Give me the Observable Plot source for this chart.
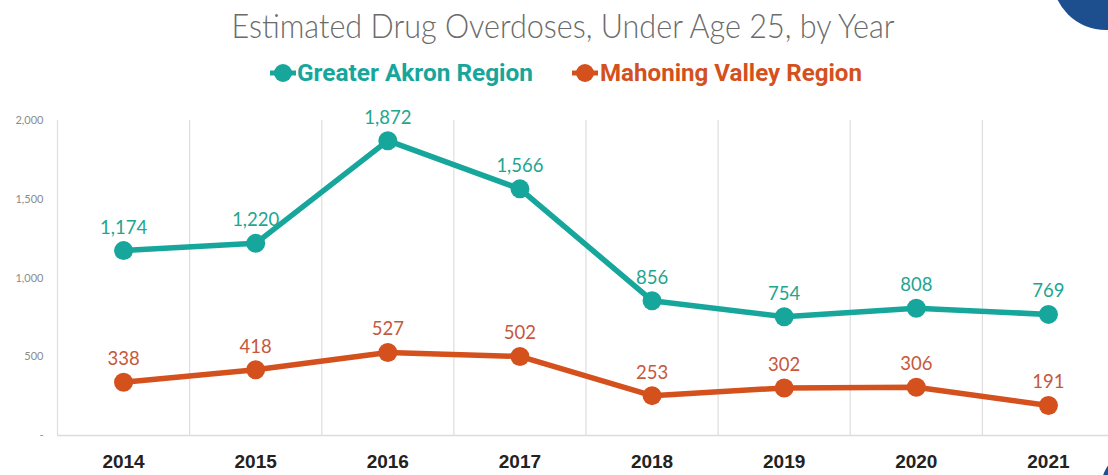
<!DOCTYPE html>
<html>
<head>
<meta charset="utf-8">
<script src="https://cdn.jsdelivr.net/npm/d3@7"></script>
<script src="https://cdn.jsdelivr.net/npm/@observablehq/plot@0.6"></script>
<style>
  html, body { margin: 0; padding: 0; background: #fff; width: 1108px; height: 475px; overflow: hidden; position: relative; }
  #header { position: absolute; left: 0; top: 0; }
  #chart { position: absolute; left: 0; top: 100px; }
  .deco { position: absolute; border-radius: 50%; background: #1d4f8f; }
</style>
</head>
<body>
<div id="header"></div>
<div id="chart"></div>
<div class="deco" style="left:1052px; top:-78px; width:108px; height:108px;"></div>
<div class="deco" style="left:1101px; top:448px; width:80px; height:80px;"></div>
<script>
const years = [2014, 2015, 2016, 2017, 2018, 2019, 2020, 2021];
const akron = [1174, 1220, 1872, 1566, 856, 754, 808, 769];
const mahoning = [338, 418, 527, 502, 253, 302, 306, 191];
const seriesNames = ["Greater Akron Region", "Mahoning Valley Region"];
const yTicks = [0, 500, 1000, 1500, 2000];
const titleText = "Estimated Drug Overdoses, Under Age 25, by Year";

const lineColors = {"Greater Akron Region": "#17a69c", "Mahoning Valley Region": "#d4511e"};
const labelColors = {"Greater Akron Region": "#22a58f", "Mahoning Valley Region": "#c5583d"};

const rows = [
  ...years.map((yr, i) => ({year: yr, value: akron[i], series: seriesNames[0]})),
  ...years.map((yr, i) => ({year: yr, value: mahoning[i], series: seriesNames[1]}))
];
const boundaries = [years[0] - 0.5, ...years.map(y => y + 0.5)];

// Header: title + legend
const header = d3.create("svg").attr("width", 1108).attr("height", 100);
header.append("text")
  .attr("x", 563).attr("y", 38)
  .attr("text-anchor", "middle")
  .attr("textLength", 663).attr("lengthAdjust", "spacingAndGlyphs")
  .attr("font-family", "Lato, 'Open Sans', sans-serif")
  .attr("font-weight", 300)
  .attr("font-size", 34)
  .attr("fill", "#6b6b6b")
  .text(titleText);

const legendItems = [
  {name: seriesNames[0], x0: 270, tx: 297, tl: 236},
  {name: seriesNames[1], x0: 572, tx: 600, tl: 262}
];
legendItems.forEach(it => {
  const c = lineColors[it.name];
  header.append("line").attr("x1", it.x0).attr("x2", it.x0 + 26)
    .attr("y1", 73).attr("y2", 73).attr("stroke", c).attr("stroke-width", 5);
  header.append("circle").attr("cx", it.x0 + 13).attr("cy", 73).attr("r", 9).attr("fill", c);
  header.append("text")
    .attr("x", it.tx).attr("y", 81)
    .attr("textLength", it.tl).attr("lengthAdjust", "spacingAndGlyphs")
    .attr("font-family", "Roboto, 'Liberation Sans', sans-serif")
    .attr("font-weight", 700)
    .attr("font-size", 23)
    .attr("fill", c)
    .text(it.name);
});
document.getElementById("header").append(header.node());

const chart = Plot.plot({
  width: 1108,
  height: 375,
  marginTop: 20,
  marginBottom: 40,
  marginLeft: 57,
  marginRight: 0,
  style: {fontFamily: "Lato, 'Open Sans', sans-serif", background: "transparent", overflow: "visible"},
  x: {type: "linear", domain: [years[0] - 0.5, years[years.length - 1] + 0.5], range: [57, 1114]},
  y: {domain: [0, 2000]},
  color: {domain: seriesNames, range: seriesNames.map(s => lineColors[s])},
  marks: [
    Plot.ruleX(boundaries, {y1: 0, y2: 2000, stroke: "#dedede", strokeWidth: 1.2}),
    Plot.ruleY([0], {stroke: "#dcdcdc", strokeWidth: 1.5}),
    Plot.axisY({
      ticks: yTicks, tickSize: 0, tickPadding: 14, label: null,
      tickFormat: d => d === 0 ? "-" : d3.format(",")(d),
      fontSize: 11, fill: "#8c8c8c"
    }),
    Plot.axisX({
      ticks: years, tickSize: 0, tickPadding: 19, label: null,
      tickFormat: d => String(d),
      fontSize: 19, fontWeight: "bold", fill: "#222",
      fontFamily: "'Liberation Sans', Arial, sans-serif"
    }),
    Plot.lineY(rows, {x: "year", y: "value", z: "series", stroke: "series", strokeWidth: 5.5}),
    Plot.dot(rows, {x: "year", y: "value", fill: "series", r: 9.5}),
    Plot.text(rows, {
      x: "year", y: "value", text: d => d3.format(",")(d.value), dy: -23,
      fill: d => labelColors[d.series], fontSize: 18.5
    })
  ]
});
document.getElementById("chart").append(chart);
</script>
</body>
</html>
